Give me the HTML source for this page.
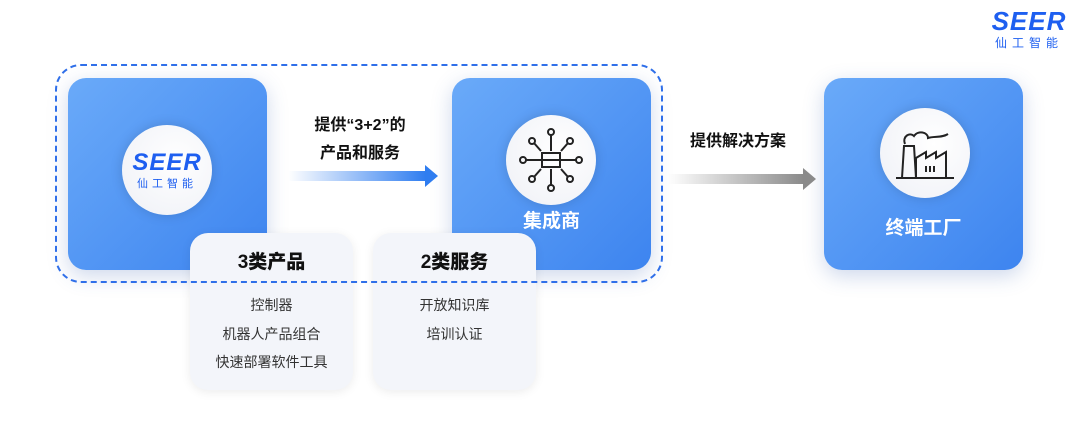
<!DOCTYPE html>
<html><head><meta charset="utf-8"><style>
body{margin:0;width:1080px;height:433px;background:#fff;position:relative;overflow:hidden;font-family:"Liberation Sans","Noto Sans CJK SC",sans-serif}
.box{position:absolute;width:199px;height:192px;border-radius:18px;background:linear-gradient(135deg,#6aaaf9,#3d84ef);box-shadow:0 6px 20px rgba(60,100,180,.25)}
.circ{position:absolute;width:90px;height:90px;border-radius:50%;background:radial-gradient(circle at 60% 40%,#fff,#eef0f6);box-shadow:0 0 12px rgba(0,0,0,.15)}
.lbl{position:absolute;color:#fff;font-size:19px;font-weight:bold;width:199px;text-align:center}
.card{position:absolute;width:163px;height:157px;border-radius:18px;background:#f3f5fa;box-shadow:0 2px 10px rgba(0,0,0,.08);text-align:center}
.card h3{margin:14px 0 0;font-size:19px;font-weight:900;color:#111}
.card p{margin:0;font-size:14px;color:#333;line-height:28.5px}
.t{position:absolute;font-size:16px;font-weight:bold;color:#111;text-align:center}
.seer{font-family:"Liberation Sans",sans-serif;font-weight:900;color:#1e5ff0;letter-spacing:1px}
</style></head><body>

<div class="box" style="left:68px;top:78px"></div>
<div class="circ" style="left:122px;top:125px;text-align:center">
<div class="seer" style="font-size:24px;margin-top:26px;line-height:24px;font-style:italic">SEER</div>
<div style="font-size:11px;color:#1e5ff0;letter-spacing:4px">仙工智能</div></div>

<div class="box" style="left:452px;top:78px"></div>
<div class="circ" style="left:506px;top:115px">
<svg width="90" height="90" viewBox="0 0 90 90" fill="none" stroke="#222" stroke-width="2">
<rect x="36" y="38" width="18" height="7"/><rect x="36" y="45" width="18" height="7"/>
<line x1="45" y1="20" x2="45" y2="36"/><circle cx="45" cy="17" r="3"/>
<line x1="45" y1="54" x2="45" y2="70"/><circle cx="45" cy="73" r="3"/>
<line x1="20" y1="45" x2="36" y2="45"/><circle cx="17" cy="45" r="3"/>
<line x1="54" y1="45" x2="70" y2="45"/><circle cx="73" cy="45" r="3"/>
<line x1="28" y1="28" x2="35" y2="36"/><circle cx="26" cy="26" r="3"/>
<line x1="62" y1="28" x2="55" y2="36"/><circle cx="64" cy="26" r="3"/>
<line x1="28" y1="62" x2="35" y2="54"/><circle cx="26" cy="64" r="3"/>
<line x1="62" y1="62" x2="55" y2="54"/><circle cx="64" cy="64" r="3"/>
</svg></div>
<div class="lbl" style="left:452px;top:206px">集成商</div>

<div class="box" style="left:824px;top:78px"></div>
<div class="circ" style="left:880px;top:108px">
<svg width="90" height="90" viewBox="0 0 90 90" fill="none" stroke="#222" stroke-width="2">
<path d="M22 70 L24 38 L34 38 L36 70"/><path d="M36 70 V50 L46 44 V50 L56 44 V50 L66 44 V70"/>
<line x1="16" y1="70" x2="74" y2="70"/><path d="M46 58v6M50 58v6M54 58v6"/>
<path d="M25 36 C22 28 30 24 34 28 C38 22 48 24 48 30 C54 28 62 30 68 26"/>
</svg></div>
<div class="lbl" style="left:824px;top:213px">终端工厂</div>

<div class="card" style="left:190px;top:233px"><h3>3类产品</h3><div style="height:17px"></div><p>控制器</p><p>机器人产品组合</p><p>快速部署软件工具</p></div>
<div class="card" style="left:373px;top:233px"><h3>2类服务</h3><div style="height:17px"></div><p>开放知识库</p><p>培训认证</p></div>

<div style="position:absolute;left:55px;top:64px;width:604px;height:215px;border:2px dashed #2f6fe9;border-radius:26px;z-index:2"></div>

<div class="t" style="left:285px;top:112px;width:150px;line-height:28px">提供“3+2”的<br>产品和服务</div>
<div style="position:absolute;left:288px;top:171px;width:138px;height:10px;background:linear-gradient(90deg,rgba(47,125,240,0),#2f7df0)"></div>
<div style="position:absolute;left:425px;top:165px;border-left:13px solid #2f7df0;border-top:11px solid transparent;border-bottom:11px solid transparent"></div>

<div class="t" style="left:668px;top:127px;width:140px">提供解决方案</div>
<div style="position:absolute;left:668px;top:174px;width:136px;height:10px;background:linear-gradient(90deg,rgba(120,120,120,0),#8a8a8a)"></div>
<div style="position:absolute;left:803px;top:168px;border-left:13px solid #8a8a8a;border-top:11px solid transparent;border-bottom:11px solid transparent"></div>

<div style="position:absolute;left:985px;top:8px;width:88px;text-align:center">
<div class="seer" style="font-size:26px;line-height:26px;font-style:italic">SEER</div>
<div style="font-size:12px;color:#1e5ff0;letter-spacing:5px">仙工智能</div></div>
</body></html>
